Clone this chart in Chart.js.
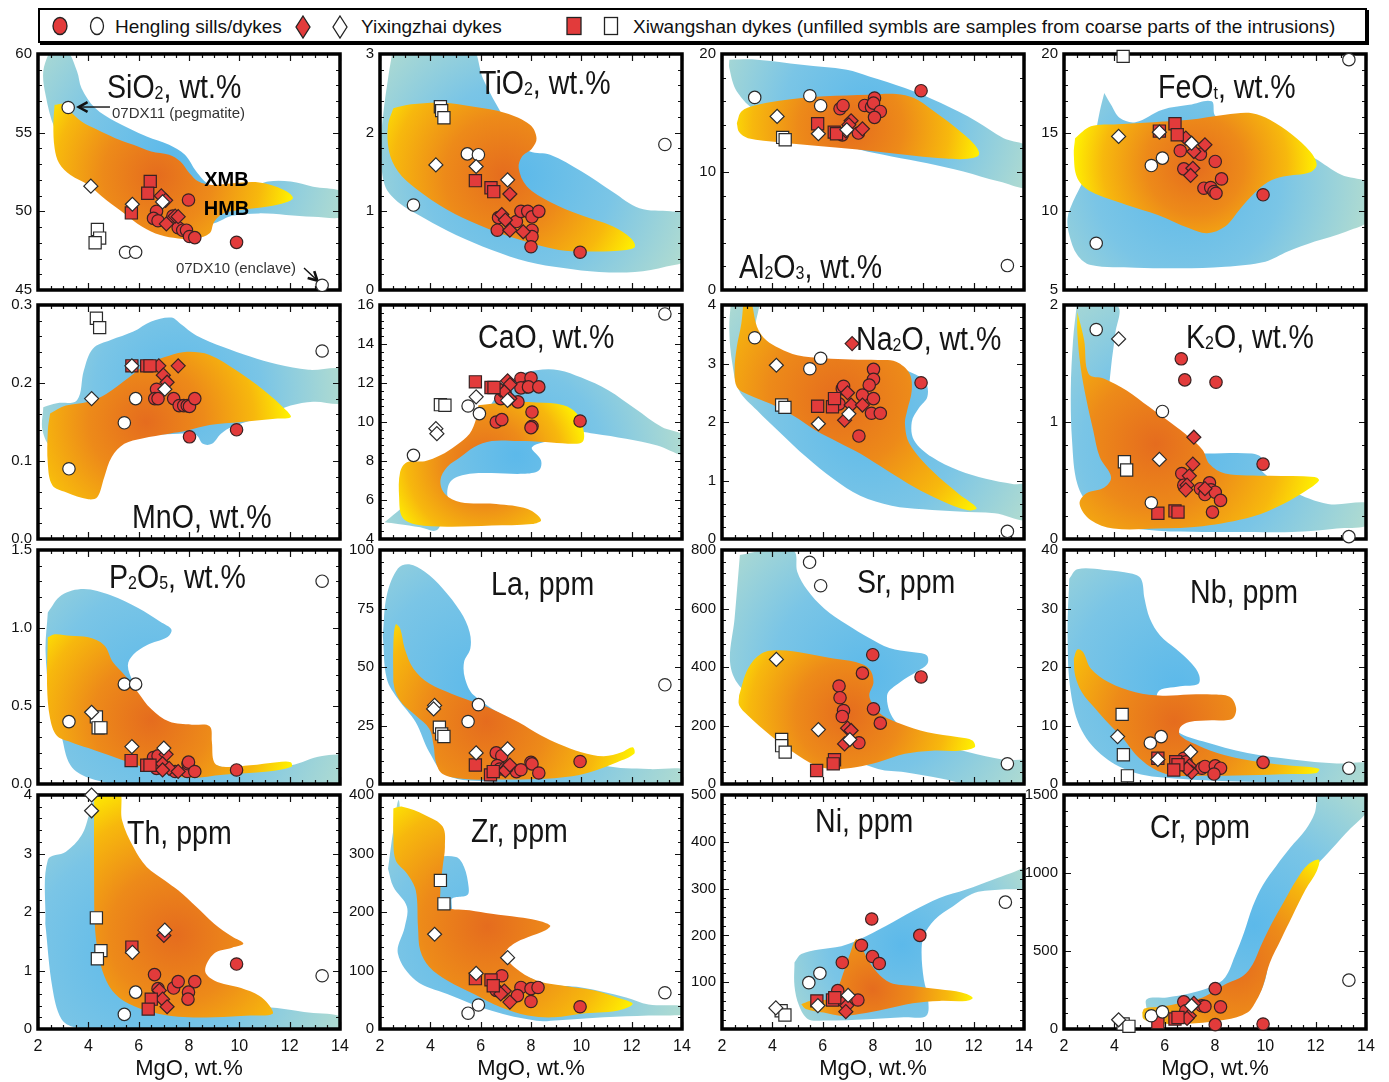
<!DOCTYPE html>
<html>
<head>
<meta charset="utf-8">
<script src="https://cdn.jsdelivr.net/npm/chart.js@4"></script>
<style>
  body { margin: 0; background: #fff; width: 1389px; height: 1082px; position: relative; overflow: hidden;
         font-family: 'Liberation Sans', Arial, sans-serif; color: #111; }
  canvas { position: absolute; }
  .ttl { position: absolute; font-size: 34px; line-height: 1; white-space: nowrap; color: #151515;
         transform: scaleX(0.84); transform-origin: 0 0; }
  .ttl sub { font-size: 0.56em; vertical-align: baseline; position: relative; top: 1px; }
  #legend { position: absolute; left: 38px; top: 8px; width: 1325px; height: 31px;
            border: 2px solid #000; box-shadow: 2px 2px 0 #000; }
  .lg { position: absolute; top: 17px; font-size: 19px; line-height: 1; white-space: nowrap; }
  .sym { position: absolute; }
</style>
</head>
<body>
<div id="legend"></div>
<svg class="sym" style="left:51px;top:16px" width="18" height="20"><ellipse cx="9" cy="10" rx="7" ry="8.5" fill="#e23b3b" stroke="#222" stroke-width="1.3"/></svg>
<svg class="sym" style="left:88px;top:16px" width="18" height="20"><ellipse cx="9" cy="10" rx="6.5" ry="8.5" fill="#fff" stroke="#222" stroke-width="1.3"/></svg>
<div class="lg" style="left:115px">Hengling sills/dykes</div>
<svg class="sym" style="left:294px;top:15px" width="18" height="24"><polygon points="9,1 16,12 9,23 2,12" fill="#e23b3b" stroke="#222" stroke-width="1.3"/></svg>
<svg class="sym" style="left:331px;top:15px" width="18" height="24"><polygon points="9,1 16,12 9,23 2,12" fill="#fff" stroke="#222" stroke-width="1.3"/></svg>
<div class="lg" style="left:361px">Yixingzhai dykes</div>
<svg class="sym" style="left:565px;top:16px" width="18" height="20"><rect x="2" y="1.5" width="14" height="17" fill="#e23b3b" stroke="#222" stroke-width="1.3"/></svg>
<svg class="sym" style="left:602px;top:16px" width="18" height="20"><rect x="2.5" y="1.5" width="13" height="17" fill="#fff" stroke="#222" stroke-width="1.3"/></svg>
<div class="lg" style="left:633px">Xiwangshan dykes (unfilled symbls are samples from coarse parts of the intrusions)</div>

<script>
// ---- fields (XMB = blue, HMB = orange) and samples, [MgO, value] ----
const SIO2_XMB = [[2.48,60.3],[3.11,60.3],[3.55,58.9],[3.73,57.83],[4.27,56.56],[5.07,55.71],[6.32,54.76],[7.21,54.23],[7.84,53.59],[8.29,52.53],[8.82,51.68],[9.54,51.46],[10.43,51.51],[11.14,51.89],[12.04,51.89],[12.93,51.57],[14.2,51.15],[14.2,49.72],[12.93,49.66],[11.86,49.77],[10.79,49.87],[9.71,49.72],[9.0,49.24],[8.29,49.13],[7.57,49.55],[6.68,50.4],[5.79,51.04],[4.89,51.68],[4.0,52.53],[3.29,53.59],[2.66,55.29],[2.3,57.41],[2.21,58.9],[2.48,60.3]];
const SIO2_HMB = [[2.66,56.77],[3.02,56.82],[3.29,56.35],[3.73,55.71],[4.36,55.18],[5.07,54.65],[5.79,54.23],[6.5,53.8],[7.21,53.59],[7.66,53.16],[8.02,52.42],[8.38,51.89],[8.91,51.68],[9.71,51.78],[10.79,51.83],[11.77,51.36],[12.13,50.87],[11.86,50.57],[11.14,50.3],[10.07,50.08],[9.36,49.87],[9.0,49.34],[8.82,48.6],[8.29,48.28],[7.57,48.28],[6.86,48.49],[6.14,49.02],[5.43,49.87],[4.71,50.72],[4.0,51.68],[3.29,52.31],[2.84,53.06],[2.66,54.01],[2.61,55.5],[2.66,56.77]];
const SIO2_HL  = [[6.71,50.0],[6.59,49.55],[6.77,49.4],[7.36,49.7],[7.57,48.96],[7.75,48.8],[7.9,48.8],[8.02,48.4],[8.23,48.33],[7.98,50.72],[9.89,48.03]];
const SIO2_HLO = [[3.2,56.6],[5.48,47.4],[5.88,47.4],[13.29,45.3]];
const SIO2_YX  = [[6.9,50.98],[7.07,50.7],[7.1,49.2],[7.45,49.7],[7.57,49.66]];
const SIO2_YXO = [[4.1,51.6],[5.75,50.45],[6.95,50.6]];
const SIO2_XW  = [[6.46,51.9],[6.36,51.15],[5.71,49.9]];
const SIO2_XWO = [[4.36,48.85],[4.45,48.3],[4.27,48.0]];

const TIO2_XMB = [[2.53,3.1],[5.56,3.1],[6.09,2.69],[6.62,2.36],[7.16,2.06],[7.51,1.89],[7.96,1.76],[8.76,1.72],[10.0,1.51],[11.24,1.25],[12.31,1.04],[13.56,1.0],[14.2,0.96],[14.2,0.4],[13.38,0.3],[12.13,0.23],[10.71,0.23],[9.29,0.28],[7.87,0.36],[6.44,0.51],[5.02,0.7],[3.78,0.91],[2.71,1.12],[2.18,1.34],[2.04,1.85],[2.14,2.27],[2.32,2.69],[2.53,3.1]];
const TIO2_HMB = [[2.53,2.31],[3.24,2.36],[4.49,2.38],[5.73,2.33],[6.98,2.25],[7.96,2.1],[8.22,1.93],[8.04,1.8],[7.65,1.7],[7.51,1.55],[7.83,1.32],[8.76,1.12],[10.0,0.95],[11.24,0.81],[11.96,0.66],[12.13,0.55],[11.78,0.51],[10.53,0.49],[9.11,0.51],[7.33,0.66],[5.91,0.83],[4.67,1.02],[3.42,1.29],[2.71,1.51],[2.36,1.76],[2.32,2.1],[2.53,2.31]];
const TIO2_HL  = [[6.71,0.92],[6.66,0.76],[7.42,0.87],[7.6,1.0],[7.87,1.0],[8.04,0.93],[8.31,1.0],[8.04,0.76],[8.04,0.68],[8.0,0.55],[9.95,0.48]];
const TIO2_HLO = [[3.33,1.08],[5.47,1.73],[5.91,1.72],[13.32,1.85]];
const TIO2_YX  = [[7.16,1.22],[6.84,0.96],[6.98,0.89],[7.16,0.76],[7.69,0.74]];
const TIO2_YXO = [[4.22,1.59],[5.82,1.57],[7.07,1.4]];
const TIO2_XW  = [[5.79,1.39],[6.41,1.3],[6.52,1.25]];
const TIO2_XWO = [[4.4,2.33],[4.45,2.28],[4.54,2.19]];

const AL2O3_XMB = [[2.29,19.52],[3.39,19.52],[5.17,19.09],[6.96,18.67],[7.85,18.1],[9.27,17.11],[10.7,15.84],[12.12,14.29],[13.19,12.87],[14.2,12.02],[14.2,8.77],[13.02,9.19],[11.59,10.04],[10.16,10.75],[8.74,11.32],[7.49,11.88],[5.17,13.44],[3.39,15.13],[2.59,16.83],[2.29,18.81],[2.29,19.52]];
const AL2O3_HMB = [[2.59,14.14],[2.77,15.13],[3.3,15.64],[4.28,16.04],[6.06,16.41],[7.85,16.55],[8.92,16.61],[9.63,16.27],[10.34,15.28],[11.23,13.86],[12.04,12.31],[12.21,11.46],[11.77,11.12],[10.7,11.17],[9.27,11.46],[7.85,11.8],[6.06,12.16],[4.28,12.53],[3.03,12.87],[2.68,13.38],[2.59,14.14]];
const AL2O3_HL  = [[6.69,15.36],[6.81,15.64],[6.78,13.15],[7.67,15.64],[7.94,15.5],[8.06,16.27],[8.02,15.84],[8.29,15.13],[8.06,14.63],[7.42,13.3],[9.91,16.89]];
const AL2O3_HLO = [[3.3,16.32],[5.49,16.46],[5.92,15.62],[13.34,2.07]];
const AL2O3_YX  = [[7.13,14.34],[7.04,14.0],[7.58,13.66],[6.92,13.49]];
const AL2O3_YXO = [[4.19,14.71],[5.83,13.24],[6.96,13.58]];
const AL2O3_XW  = [[5.8,14.09],[6.46,13.38],[6.55,13.24]];
const AL2O3_XWO = [[4.41,12.93],[4.51,12.73]];

const FEOT_XMB = [[3.6,17.52],[3.87,16.77],[4.22,15.93],[4.84,15.67],[5.91,16.46],[6.98,16.77],[7.87,16.99],[8.04,16.03],[10.18,14.87],[11.96,13.38],[13.02,12.32],[14.2,11.68],[14.2,9.56],[13.2,8.71],[11.96,8.08],[10.89,7.44],[10.0,6.8],[8.4,6.48],[6.62,6.38],[4.84,6.42],[3.07,6.59],[2.53,7.23],[2.21,8.5],[2.14,9.56],[2.36,10.62],[2.8,12.11],[3.16,14.23],[3.42,16.35],[3.6,17.52]];
const FEOT_HMB = [[2.44,14.65],[3.07,15.4],[4.13,15.54],[5.56,15.67],[6.98,15.82],[8.4,16.14],[9.47,16.24],[10.18,15.82],[11.07,14.87],[11.78,13.8],[12.04,12.96],[11.78,12.49],[10.71,12.21],[10.09,11.85],[9.56,11.15],[9.02,10.2],[8.4,9.03],[7.69,8.61],[6.98,8.92],[5.73,9.77],[4.49,10.41],[3.07,11.26],[2.53,12.11],[2.39,13.59],[2.44,14.65]];
const FEOT_HL  = [[6.62,13.85],[6.76,12.7],[7.42,13.63],[7.56,11.47],[7.83,11.51],[8.01,13.17],[7.96,11.26],[8.26,12.06],[8.04,11.15],[9.91,11.05]];
const FEOT_HLO = [[5.47,12.91],[5.91,13.38],[3.28,7.97],[13.32,19.64]];
const FEOT_YX  = [[6.84,14.65],[7.6,14.23],[7.16,13.8],[7.12,12.74],[7.03,12.28]];
const FEOT_YXO = [[4.17,14.76],[5.79,15.03],[7.07,14.33]];
const FEOT_XW  = [[5.79,15.1],[6.41,15.57],[6.5,14.87]];
const FEOT_XWO = [[4.35,19.85]];

const MNO_XMB = [[2.21,0.169],[2.75,0.174],[3.55,0.178],[3.82,0.216],[4.18,0.244],[4.89,0.255],[5.79,0.266],[6.5,0.279],[7.3,0.284],[7.66,0.276],[8.29,0.261],[9.36,0.246],[10.43,0.234],[11.5,0.224],[12.75,0.217],[14.2,0.216],[14.2,0.176],[12.93,0.176],[12.04,0.171],[11.14,0.159],[9.71,0.144],[9.27,0.135],[8.91,0.122],[8.55,0.122],[8.29,0.133],[7.57,0.135],[5.79,0.131],[4.0,0.122],[2.57,0.118],[2.18,0.139],[2.21,0.169]];
const MNO_HMB = [[2.48,0.161],[3.11,0.171],[4.0,0.176],[4.71,0.186],[5.61,0.207],[6.32,0.224],[7.21,0.235],[7.93,0.24],[8.82,0.236],[9.89,0.216],[10.96,0.191],[11.86,0.165],[12.04,0.156],[11.32,0.154],[10.07,0.15],[8.82,0.146],[7.93,0.139],[7.21,0.135],[6.14,0.129],[5.43,0.122],[4.93,0.105],[4.63,0.079],[4.36,0.054],[4.0,0.051],[3.11,0.06],[2.57,0.069],[2.39,0.096],[2.39,0.139],[2.48,0.161]];
const MNO_HL  = [[6.71,0.192],[6.64,0.18],[6.77,0.18],[7.39,0.18],[7.61,0.171],[7.79,0.171],[7.93,0.171],[8.02,0.17],[8.23,0.18],[8.02,0.131],[9.89,0.14]];
const MNO_HLO = [[13.29,0.241],[5.88,0.18],[5.43,0.149],[3.23,0.09]];
const MNO_YX  = [[6.8,0.222],[6.98,0.21],[7.13,0.201],[7.57,0.222]];
const MNO_YXO = [[4.13,0.18],[5.73,0.222],[7.04,0.192]];
const MNO_XW  = [[5.73,0.222],[6.32,0.222],[6.45,0.222]];
const MNO_XWO = [[4.32,0.283],[4.45,0.271]];

const CAO_XMB = [[2.18,4.86],[2.89,5.63],[3.6,6.49],[4.31,7.43],[5.02,8.54],[5.73,9.57],[6.27,10.6],[6.8,11.63],[7.51,12.4],[8.22,12.66],[9.11,12.66],[10.0,12.28],[11.07,11.63],[12.13,10.69],[13.2,9.74],[14.2,9.23],[14.2,8.29],[13.02,8.8],[11.78,9.14],[10.53,9.4],[9.82,9.49],[9.11,9.14],[8.04,8.71],[8.4,8.03],[8.31,7.51],[7.69,7.34],[6.44,7.38],[5.56,7.34],[4.84,7.0],[4.67,6.31],[4.84,5.63],[4.49,4.94],[4.22,4.43],[3.6,4.6],[2.71,4.77],[2.18,4.86]];
const CAO_HMB = [[5.91,10.86],[6.98,11.0],[8.22,11.0],[9.29,10.86],[9.82,10.43],[10.09,9.57],[10.04,8.97],[9.47,8.89],[8.58,8.97],[7.51,9.02],[6.44,9.02],[5.73,8.71],[5.2,8.2],[4.67,7.69],[4.4,7.0],[4.58,6.31],[5.2,5.89],[6.62,5.8],[7.87,5.54],[8.4,4.98],[8.04,4.77],[6.44,4.69],[4.67,4.63],[3.42,4.74],[2.89,5.11],[2.76,6.14],[2.8,7.43],[3.07,7.94],[3.78,7.99],[4.4,8.29],[5.02,8.8],[5.56,9.4],[5.82,10.17],[5.91,10.86]];
const CAO_HL  = [[6.8,11.2],[7.6,12.23],[7.83,11.8],[7.6,11.75],[8.0,12.26],[7.9,11.8],[8.31,11.8],[7.48,11.03],[6.62,10.0],[6.84,10.12],[8.04,10.51],[8.04,9.78],[8.0,9.71],[9.95,10.05]];
const CAO_HLO = [[13.32,15.54],[3.33,8.29],[5.5,10.82],[5.95,10.43]];
const CAO_YX  = [[7.07,12.11],[7.16,11.92],[6.8,11.63],[6.94,11.54],[7.16,11.2]];
const CAO_YXO = [[4.22,9.66],[4.26,9.4],[5.82,11.29],[7.07,11.11]];
const CAO_XW  = [[5.79,12.06],[6.41,11.77],[6.53,11.77]];
const CAO_XWO = [[4.4,10.89],[4.58,10.86]];

const NA2O_XMB = [[2.36,4.1],[3.43,4.1],[3.35,3.51],[4.28,3.11],[6.06,3.06],[8.38,3.03],[9.45,2.86],[10.08,2.69],[10.16,2.43],[9.81,2.23],[9.54,2.0],[9.63,1.69],[10.34,1.4],[11.41,1.17],[12.48,1.03],[13.55,0.94],[14.2,0.91],[14.2,0.34],[12.84,0.44],[11.41,0.47],[9.99,0.51],[8.74,0.57],[7.49,0.74],[6.42,1.03],[5.35,1.4],[4.28,1.83],[3.39,2.2],[2.68,2.54],[2.41,3.0],[2.29,3.57],[2.36,4.1]];
const NA2O_HMB = [[2.86,4.1],[3.12,4.1],[3.39,3.63],[3.75,3.4],[4.28,3.26],[4.99,3.14],[6.06,3.09],[7.13,3.07],[8.2,3.06],[8.92,3.03],[9.45,2.83],[9.54,2.54],[9.36,2.2],[9.27,1.97],[9.45,1.63],[10.34,1.17],[11.41,0.77],[12.12,0.53],[11.77,0.49],[10.7,0.66],[9.63,0.89],[8.56,1.17],[7.49,1.46],[6.6,1.66],[5.71,1.86],[4.82,2.11],[3.93,2.31],[3.03,2.47],[2.59,2.6],[2.5,2.89],[2.59,3.29],[2.77,3.69],[2.86,4.1]];
const NA2O_HL  = [[6.78,2.57],[6.83,2.61],[6.65,2.31],[8.02,2.9],[8.02,2.73],[7.85,2.63],[7.58,2.46],[8.02,2.4],[7.94,2.15],[8.29,2.15],[7.44,1.76],[9.91,2.67]];
const NA2O_HLO = [[3.3,3.44],[5.49,2.91],[5.92,3.09],[13.34,0.13]];
const NA2O_YX  = [[7.17,3.34],[6.99,2.5],[7.13,2.29],[7.58,2.29],[6.87,2.03]];
const NA2O_YXO = [[4.16,2.97],[5.83,1.97],[7.04,2.14]];
const NA2O_XW  = [[5.8,2.27],[6.39,2.26],[6.47,2.4]];
const NA2O_XWO = [[4.37,2.29],[4.5,2.25]];

const K2O_XMB = [[2.5,1.99],[4.13,1.99],[4.04,1.76],[3.87,1.47],[3.78,1.19],[3.96,0.84],[4.84,0.7],[6.27,0.73],[7.69,0.73],[9.47,0.73],[9.86,0.69],[9.82,0.59],[11.07,0.41],[12.49,0.3],[14.2,0.3],[14.2,0.13],[12.84,0.09],[11.07,0.06],[9.29,0.06],[7.51,0.06],[5.73,0.07],[3.96,0.13],[3.07,0.27],[2.53,0.47],[2.32,0.84],[2.27,1.27],[2.36,1.7],[2.5,1.99]];
const K2O_HMB = [[2.53,1.94],[2.8,1.7],[2.98,1.41],[3.6,1.37],[4.49,1.27],[5.38,1.13],[6.27,0.99],[6.98,0.87],[7.51,0.76],[7.78,0.64],[8.4,0.56],[10.18,0.54],[11.96,0.53],[12.13,0.5],[11.6,0.41],[10.71,0.3],[9.47,0.19],[7.51,0.11],[5.73,0.09],[3.96,0.09],[3.07,0.16],[2.62,0.3],[2.89,0.39],[3.6,0.44],[3.87,0.53],[3.42,0.7],[3.16,0.93],[2.89,1.19],[2.66,1.47],[2.53,1.76],[2.53,1.94]];
const K2O_HL  = [[6.66,1.54],[6.8,1.36],[8.04,1.34],[6.68,0.56],[6.76,0.46],[7.42,0.43],[7.78,0.48],[7.84,0.42],[7.6,0.38],[8.01,0.4],[8.22,0.33],[7.9,0.23],[9.91,0.64]];
const K2O_HLO = [[3.28,1.79],[5.91,1.09],[5.47,0.31],[13.32,0.02]];
const K2O_YX  = [[7.16,0.87],[7.12,0.64],[6.98,0.54],[6.89,0.46],[6.84,0.42],[7.6,0.43]];
const K2O_YXO = [[4.17,1.71],[5.79,0.68]];
const K2O_XW  = [[5.73,0.22],[6.41,0.24],[6.53,0.23]];
const K2O_XWO = [[4.4,0.66],[4.49,0.59]];

const P2O5_XMB = [[2.39,1.1],[2.93,1.21],[3.82,1.25],[4.89,1.21],[5.96,1.13],[6.86,1.04],[7.3,0.99],[7.13,0.94],[6.32,0.89],[5.79,0.83],[5.57,0.76],[5.79,0.65],[6.32,0.48],[7.57,0.31],[8.82,0.14],[10.25,0.09],[12.04,0.12],[13.29,0.18],[14.2,0.17],[14.2,-0.05],[11.14,-0.05],[8.46,-0.05],[5.79,-0.02],[4.0,0.04],[3.29,0.12],[2.93,0.31],[2.48,0.57],[2.3,0.85],[2.39,1.1]];
const P2O5_HMB = [[2.39,0.94],[2.66,0.96],[3.29,0.95],[4.0,0.94],[4.63,0.89],[4.98,0.78],[5.43,0.7],[5.96,0.59],[6.5,0.48],[7.21,0.4],[8.11,0.38],[8.82,0.37],[8.91,0.27],[9.0,0.14],[9.36,0.11],[10.43,0.12],[11.5,0.14],[12.04,0.14],[12.07,0.11],[11.14,0.08],[9.36,0.06],[8.11,0.04],[7.21,0.06],[6.14,0.11],[5.07,0.17],[4.0,0.23],[3.29,0.27],[2.75,0.31],[2.48,0.42],[2.36,0.63],[2.39,0.94]];
const P2O5_HL  = [[6.59,0.17],[6.77,0.18],[6.71,0.1],[7.45,0.08],[7.93,0.08],[7.96,0.13],[7.98,0.14],[8.23,0.08],[9.89,0.09]];
const P2O5_HLO = [[13.29,1.3],[5.43,0.64],[5.88,0.64],[3.23,0.4]];
const P2O5_YX  = [[7.09,0.19],[6.95,0.13],[7.21,0.1],[7.57,0.08],[6.95,0.09]];
const P2O5_YXO = [[4.13,0.46],[5.73,0.24],[7.0,0.23]];
const P2O5_XW  = [[5.7,0.15],[6.32,0.12],[6.45,0.12]];
const P2O5_XWO = [[4.32,0.43],[4.39,0.36],[4.5,0.36]];

const LA_XMB = [[2.11,63.6],[2.27,80.7],[2.71,92.1],[3.16,93.9],[3.78,90.7],[4.49,83.6],[5.2,73.6],[5.56,65.0],[5.59,57.9],[5.34,52.1],[5.38,45.0],[5.73,37.9],[7.33,26.4],[9.11,15.0],[10.89,7.9],[12.67,6.4],[14.2,6.0],[14.2,0.4],[11.78,0.4],[9.11,0.4],[6.44,1.0],[4.67,3.6],[3.96,13.6],[3.42,26.4],[2.71,36.4],[2.27,45.0],[2.11,63.6]];
const LA_HMB = [[2.53,43.6],[2.53,59.3],[2.62,68.1],[2.8,66.4],[2.98,57.9],[3.33,49.3],[3.96,42.9],[4.84,38.6],[5.73,35.0],[6.44,32.1],[7.51,26.4],[8.4,20.7],[9.11,17.1],[10.0,13.6],[10.89,11.9],[11.6,13.6],[12.04,15.7],[12.1,12.9],[11.42,9.3],[10.53,5.7],[9.64,3.3],[8.22,2.1],[6.44,1.9],[5.38,2.1],[4.49,4.3],[4.22,9.3],[4.13,16.4],[3.96,23.6],[3.42,29.3],[2.89,34.3],[2.62,39.3],[2.53,43.6]];
const LA_HL  = [[6.62,13.3],[6.84,12.1],[8.0,9.3],[8.04,8.6],[8.31,4.7],[9.95,9.6],[7.42,5.3],[7.6,6.1],[6.66,7.9],[6.76,6.4]];
const LA_HLO = [[13.32,42.4],[5.91,33.9],[5.5,26.7]];
const LA_YX  = [[6.89,6.4],[7.07,7.1],[6.98,5.7],[7.16,8.1]];
const LA_YXO = [[4.17,33.6],[4.13,32.1],[5.82,13.3],[7.07,15.0]];
const LA_XW  = [[5.79,8.1],[6.39,3.9],[6.5,5.3]];
const LA_XWO = [[4.36,24.3],[4.45,21.4],[4.54,20.3]];

const SR_XMB = [[2.71,783],[3.57,797],[4.85,797],[4.99,726],[5.39,663],[6.06,600],[6.96,545],[7.85,499],[8.65,465],[9.54,451],[10.13,440],[10.16,411],[9.72,383],[9.09,349],[8.56,303],[8.92,211],[10.16,154],[11.77,109],[13.19,83],[14.2,74],[14.2,-10],[12.3,-10],[10.7,19],[9.27,40],[8.2,51],[6.6,109],[4.28,211],[2.68,337],[2.32,417],[2.5,566],[2.71,783]];
const SR_HMB = [[2.68,303],[3.03,394],[3.57,446],[4.28,457],[5.35,446],[6.42,429],[7.31,417],[7.85,394],[8.02,349],[7.85,303],[8.02,269],[8.38,234],[9.09,206],[10.16,177],[11.41,160],[11.95,149],[12.04,126],[11.41,114],[10.34,114],[9.27,103],[8.2,74],[7.31,57],[6.42,51],[5.71,63],[4.82,109],[3.93,166],[3.03,234],[2.68,269],[2.68,303]];
const SR_HL  = [[7.99,442],[9.91,366],[7.58,379],[6.65,335],[6.69,295],[6.83,251],[6.78,231],[8.02,257],[8.29,208],[7.44,141]];
const SR_HLO = [[5.48,758],[5.92,678],[13.34,69]];
const SR_YX  = [[6.99,191],[7.13,183],[6.87,137]];
const SR_YXO = [[4.16,426],[5.83,186],[7.08,152]];
const SR_XW  = [[6.47,83],[6.42,69],[5.76,46]];
const SR_XWO = [[4.37,152],[4.37,131],[4.51,109]];

const NB_XMB = [[2.21,35.1],[2.53,36.7],[3.6,36.6],[4.67,36.0],[5.06,35.1],[5.2,31.7],[5.41,28.3],[5.82,25.4],[6.44,23.1],[7.07,20.6],[7.37,18.6],[7.33,17.1],[6.62,16.7],[5.73,15.7],[5.91,11.7],[6.53,8.9],[7.51,7.3],[9.29,5.3],[11.07,4.2],[12.84,3.5],[14.2,3.4],[14.2,0.4],[11.96,0.3],[9.29,0.4],[6.62,0.9],[4.84,1.9],[3.6,4.6],[2.71,9.1],[2.27,15.7],[2.14,25.4],[2.21,35.1]];
const NB_HMB = [[2.39,21.4],[2.53,23.0],[2.75,22.6],[3.07,19.7],[3.78,17.4],[4.84,15.7],[5.91,15.1],[6.98,15.3],[7.87,15.3],[8.58,14.9],[8.84,12.9],[8.67,11.1],[7.87,10.9],[6.98,10.6],[6.62,9.7],[6.62,8.3],[7.33,6.6],[8.4,4.9],[9.82,3.7],[11.07,3.1],[12.13,2.6],[12.04,1.9],[11.07,1.7],[9.29,1.5],[7.51,1.4],[6.27,1.5],[5.56,2.6],[5.02,4.3],[4.67,6.0],[4.31,8.0],[3.78,10.3],[3.24,12.9],[2.71,15.7],[2.44,18.6],[2.39,21.4]];
const NB_HL  = [[6.76,4.4],[6.85,3.8],[7.48,2.7],[7.6,3.0],[8.01,3.1],[8.22,2.7],[7.96,1.7],[9.91,3.7]];
const NB_HLO = [[5.43,7.0],[5.86,8.1],[13.32,2.7]];
const NB_YX  = [[6.98,3.1],[7.07,2.0],[6.89,2.6]];
const NB_YXO = [[4.13,8.1],[5.73,4.2],[7.03,5.5]];
const NB_XW  = [[5.73,4.4],[6.44,3.8],[6.53,3.3],[6.36,2.4]];
const NB_XWO = [[4.31,11.9],[4.36,5.0],[4.52,1.4]];

const TH_XMB = [[2.29,1.8],[2.39,2.89],[3.11,3.03],[3.73,3.31],[4.05,3.69],[4.21,3.91],[4.45,2.54],[4.71,1.69],[5.25,1.06],[6.14,0.54],[7.93,0.31],[9.71,0.34],[11.14,0.37],[12.57,0.29],[14.2,0.19],[14.2,-0.05],[8.46,-0.05],[5.79,-0.05],[3.46,0.03],[2.93,0.17],[2.57,0.71],[2.29,1.8]];
const TH_HMB = [[4.23,4.1],[5.21,4.1],[5.34,3.57],[5.79,3.11],[6.32,2.77],[7.04,2.54],[7.57,2.37],[8.29,2.09],[9.0,1.8],[9.71,1.58],[10.16,1.46],[9.71,1.39],[9.0,1.29],[8.64,1.0],[9.0,0.83],[10.07,0.7],[10.79,0.57],[11.14,0.43],[11.32,0.26],[10.43,0.23],[9.0,0.2],[7.57,0.21],[6.5,0.29],[5.61,0.43],[5.07,0.6],[4.71,0.83],[4.45,1.17],[4.27,1.69],[4.23,2.54],[4.23,4.1]];
const TH_HL  = [[9.89,1.11],[6.63,0.93],[6.77,0.69],[7.39,0.7],[7.57,0.81],[8.23,0.81],[7.98,0.63],[7.96,0.51]];
const TH_HLO = [[5.88,0.63],[5.43,0.25],[13.29,0.91]];
const TH_YX  = [[7.0,1.6],[6.82,0.66],[6.95,0.51],[7.13,0.38]];
const TH_YXO = [[4.13,4.0],[4.13,3.73],[5.75,1.31],[7.04,1.69]];
const TH_XW  = [[5.73,1.4],[6.5,0.51],[6.38,0.34]];
const TH_XWO = [[4.32,1.9],[4.5,1.34],[4.36,1.2]];

const ZR_XMB = [[2.32,274],[2.53,340],[2.75,391],[2.98,294],[3.96,294],[5.02,294],[5.34,277],[5.52,243],[5.47,229],[4.84,220],[5.56,106],[6.98,100],[7.87,89],[8.58,77],[10.0,71],[11.78,54],[12.67,42],[14.2,38],[14.2,26],[12.67,23],[10.89,20],[9.11,15],[8.22,14],[6.44,31],[4.67,60],[3.42,83],[2.71,129],[2.98,174],[3.07,209],[2.53,243],[2.32,274]];
const ZR_HMB = [[2.53,377],[2.89,380],[3.78,366],[4.49,346],[4.58,311],[4.49,277],[4.4,237],[4.49,210],[5.56,203],[6.44,197],[7.51,191],[8.22,186],[8.76,177],[8.58,169],[7.87,157],[7.33,146],[6.98,129],[7.33,106],[8.22,83],[9.29,74],[10.53,66],[11.42,54],[12.04,43],[11.42,31],[10.0,26],[8.93,20],[7.87,23],[6.8,37],[5.73,60],[4.67,83],[3.96,106],[3.6,134],[3.51,174],[3.42,237],[3.07,266],[2.62,289],[2.53,334],[2.53,377]];
const ZR_HL  = [[6.84,91],[7.6,71],[8.0,69],[8.28,71],[7.46,57],[8.0,47],[9.95,38],[6.62,66]];
const ZR_HLO = [[5.5,27],[5.91,41],[13.32,62]];
const ZR_YX  = [[6.94,65],[7.16,46],[6.8,60]];
const ZR_YXO = [[4.17,162],[7.07,122],[5.82,95]];
const ZR_XW  = [[5.79,86],[6.41,84],[6.5,74]];
const ZR_XWO = [[4.4,254],[4.54,214]];

const NI_XMB = [[4.88,142],[5.15,160],[5.86,170],[6.74,177],[7.45,191],[8.51,220],[9.58,252],[10.64,280],[11.7,298],[12.76,319],[13.47,333],[14.2,344],[14.2,305],[13.12,298],[12.05,291],[11.17,262],[10.46,234],[10.02,199],[9.93,163],[10.02,106],[10.19,64],[10.11,28],[9.22,25],[7.81,21],[6.04,18],[5.42,21],[5.06,50],[4.88,92],[4.88,142]];
const NI_HMB = [[5.15,53],[5.5,60],[6.21,64],[6.57,85],[6.83,121],[7.1,163],[7.31,191],[7.45,188],[7.72,156],[8.16,121],[8.69,99],[9.58,92],[10.64,85],[11.52,78],[11.96,67],[11.7,60],[10.64,60],[9.58,55],[8.51,43],[7.45,32],[6.74,28],[6.04,35],[5.33,43],[5.15,53]];
const NI_HL  = [[6.78,142],[6.6,82],[7.54,179],[7.95,235],[7.98,155],[8.25,140],[9.86,200],[7.4,62]];
const NI_HLO = [[5.45,99],[5.89,119],[13.26,271]];
const NI_YX  = [[6.83,57],[6.96,50],[6.92,37]];
const NI_YXO = [[4.14,45],[5.81,50],[7.01,72]];
const NI_XW  = [[5.77,60],[6.39,62],[6.48,67]];
const NI_XWO = [[4.35,39],[4.5,30]];

const CR_XMB = [[5.29,117],[5.29,191],[6.09,202],[6.98,227],[7.87,272],[8.4,330],[8.79,468],[9.15,617],[9.5,787],[9.91,925],[10.44,1047],[10.98,1160],[11.6,1277],[11.96,1383],[12.22,1530],[14.2,1530],[14.2,1426],[13.2,1255],[12.49,1128],[11.87,1021],[11.24,894],[10.8,766],[10.44,638],[10.18,489],[10.0,319],[9.64,191],[9.11,106],[7.51,64],[5.91,53],[5.38,64],[5.29,117]];
const CR_HMB = [[5.11,106],[5.2,132],[5.91,144],[6.62,166],[7.51,202],[8.04,251],[8.49,293],[9.11,340],[9.5,415],[9.82,532],[10.27,681],[10.71,808],[11.24,957],[11.69,1053],[12.13,1085],[12.04,1011],[11.6,894],[11.07,723],[10.62,574],[10.18,425],[9.91,276],[9.64,181],[9.29,106],[8.4,59],[6.62,32],[5.56,42],[5.16,64],[5.11,106]];
const CR_HL  = [[6.76,174],[6.84,117],[7.48,149],[7.6,145],[8.01,259],[8.22,142],[8.01,28],[9.91,32]];
const CR_HLO = [[5.47,85],[5.91,110],[13.32,313]];
const CR_YX  = [[6.98,85],[6.89,68],[7.16,164]];
const CR_YXO = [[4.17,59],[7.07,149]];
const CR_XW  = [[5.73,42],[6.41,64],[6.53,74]];
const CR_XWO = [[4.35,32],[4.58,17]];

// annotations on the SiO2 panel, in data units
const SIO2_LABELS = [
  { text: '07DX11 (pegmatite)', x: 4.94, y: 56.19, bold: false },
  { text: 'XMB', x: 9.49, y: 51.96, bold: true },
  { text: 'HMB', x: 9.49, y: 50.11, bold: true },
  { text: '07DX10 (enclave)', x: 7.48, y: 46.36, bold: false }
];
const SIO2_ARROWS = [[4.86, 56.63, 3.62, 56.63], [12.57, 46.4, 13.1, 45.6]];

const MGO_RANGE = [2, 14];

// ---- panel layout ----
const COL_LEFT = [38, 380, 722, 1064];
const ROW_TOP  = [54, 305, 550, 795];
const ROW_H    = [236, 234, 234, 234];
const PLOT_W   = 302;

const PANELS = [
  { key: 'SiO2',  title: 'SiO<sub>2</sub>, wt.%', tx: 107, ty: 73, y: [45, 60, 5], dec: 0,
    f: [SIO2_XMB, SIO2_HMB, SIO2_HL, SIO2_HLO, SIO2_YX, SIO2_YXO, SIO2_XW, SIO2_XWO] },
  { key: 'TiO2',  title: 'TiO<sub>2</sub>, wt.%', tx: 479, ty: 69, y: [0, 3, 1], dec: 0,
    f: [TIO2_XMB, TIO2_HMB, TIO2_HL, TIO2_HLO, TIO2_YX, TIO2_YXO, TIO2_XW, TIO2_XWO] },
  { key: 'Al2O3', title: 'Al<sub>2</sub>O<sub>3</sub>, wt.%', tx: 739, ty: 253, y: [0, 20, 10], dec: 0,
    f: [AL2O3_XMB, AL2O3_HMB, AL2O3_HL, AL2O3_HLO, AL2O3_YX, AL2O3_YXO, AL2O3_XW, AL2O3_XWO] },
  { key: 'FeOt',  title: 'FeO<sub>t</sub>, wt.%', tx: 1158, ty: 73, y: [5, 20, 5], dec: 0,
    f: [FEOT_XMB, FEOT_HMB, FEOT_HL, FEOT_HLO, FEOT_YX, FEOT_YXO, FEOT_XW, FEOT_XWO] },
  { key: 'MnO',   title: 'MnO, wt.%', tx: 132, ty: 503, y: [0, 0.3, 0.1], dec: 1,
    f: [MNO_XMB, MNO_HMB, MNO_HL, MNO_HLO, MNO_YX, MNO_YXO, MNO_XW, MNO_XWO] },
  { key: 'CaO',   title: 'CaO, wt.%', tx: 478, ty: 323, y: [4, 16, 2], dec: 0,
    f: [CAO_XMB, CAO_HMB, CAO_HL, CAO_HLO, CAO_YX, CAO_YXO, CAO_XW, CAO_XWO] },
  { key: 'Na2O',  title: 'Na<sub>2</sub>O, wt.%', tx: 856, ty: 325, y: [0, 4, 1], dec: 0,
    f: [NA2O_XMB, NA2O_HMB, NA2O_HL, NA2O_HLO, NA2O_YX, NA2O_YXO, NA2O_XW, NA2O_XWO] },
  { key: 'K2O',   title: 'K<sub>2</sub>O, wt.%', tx: 1186, ty: 323, y: [0, 2, 1], dec: 0,
    f: [K2O_XMB, K2O_HMB, K2O_HL, K2O_HLO, K2O_YX, K2O_YXO, K2O_XW, K2O_XWO] },
  { key: 'P2O5',  title: 'P<sub>2</sub>O<sub>5</sub>, wt.%', tx: 109, ty: 563, y: [0, 1.5, 0.5], dec: 1,
    f: [P2O5_XMB, P2O5_HMB, P2O5_HL, P2O5_HLO, P2O5_YX, P2O5_YXO, P2O5_XW, P2O5_XWO] },
  { key: 'La',    title: 'La, ppm', tx: 491, ty: 570, y: [0, 100, 25], dec: 0,
    f: [LA_XMB, LA_HMB, LA_HL, LA_HLO, LA_YX, LA_YXO, LA_XW, LA_XWO] },
  { key: 'Sr',    title: 'Sr, ppm', tx: 857, ty: 568, y: [0, 800, 200], dec: 0,
    f: [SR_XMB, SR_HMB, SR_HL, SR_HLO, SR_YX, SR_YXO, SR_XW, SR_XWO] },
  { key: 'Nb',    title: 'Nb, ppm', tx: 1190, ty: 578, y: [0, 40, 10], dec: 0,
    f: [NB_XMB, NB_HMB, NB_HL, NB_HLO, NB_YX, NB_YXO, NB_XW, NB_XWO] },
  { key: 'Th',    title: 'Th, ppm', tx: 127, ty: 819, y: [0, 4, 1], dec: 0,
    f: [TH_XMB, TH_HMB, TH_HL, TH_HLO, TH_YX, TH_YXO, TH_XW, TH_XWO] },
  { key: 'Zr',    title: 'Zr, ppm', tx: 471, ty: 817, y: [0, 400, 100], dec: 0,
    f: [ZR_XMB, ZR_HMB, ZR_HL, ZR_HLO, ZR_YX, ZR_YXO, ZR_XW, ZR_XWO] },
  { key: 'Ni',    title: 'Ni, ppm', tx: 815, ty: 807, y: [0, 500, 100], dec: 0, hideZero: true,
    f: [NI_XMB, NI_HMB, NI_HL, NI_HLO, NI_YX, NI_YXO, NI_XW, NI_XWO] },
  { key: 'Cr',    title: 'Cr, ppm', tx: 1150, ty: 813, y: [0, 1500, 500], dec: 0,
    f: [CR_XMB, CR_HMB, CR_HL, CR_HLO, CR_YX, CR_YXO, CR_XW, CR_XWO] }
];

const FONT = "'Liberation Sans', Arial, sans-serif";
const RED = '#e23b3b';
const FIELD_STOPS = {
  XMB: [[0, '#5cb9ea'], [0.5, '#7ac5e6'], [1, '#b2dcd0']],
  HMB: [[0, '#e56c1e'], [0.4, '#ed8a19'], [0.75, '#f7b80d'], [1, '#fff200']]
};

const xy = pairs => pairs.map(([x, y]) => ({ x, y }));

function fieldColor(kind) {
  return (c) => {
    const chart = c.chart;
    const xs = chart.scales.x, ys = chart.scales.y;
    if (!chart.chartArea || !xs || !ys || !c.dataset) return FIELD_STOPS[kind][1][1];
    const px = c.dataset.data.map(p => [xs.getPixelForValue(p.x), ys.getPixelForValue(p.y)]);
    let cx = 0, cy = 0;
    px.forEach(p => { cx += p[0]; cy += p[1]; });
    cx /= px.length; cy /= px.length;
    let r = 1;
    px.forEach(p => { r = Math.max(r, Math.hypot(p[0] - cx, p[1] - cy)); });
    const g = chart.ctx.createRadialGradient(cx, cy, 0, cx, cy, r);
    FIELD_STOPS[kind].forEach(([o, col]) => g.addColorStop(o, col));
    return g;
  };
}

function field(kind, pairs, order) {
  return {
    type: 'line', role: kind, data: xy(pairs), order,
    showLine: true, fill: 'shape', borderWidth: 0, borderColor: 'rgba(0,0,0,0)',
    pointRadius: 0, pointHoverRadius: 0, tension: 0.35,
    backgroundColor: fieldColor(kind)
  };
}

function samples(pairs, style, filled, order) {
  const radius = { circle: 6.2, rectRot: 7, rect: 8.6 }[style];
  return {
    type: 'scatter', data: xy(pairs), order, clip: false,
    pointStyle: style, pointRadius: radius, pointHoverRadius: radius,
    pointBackgroundColor: filled ? RED : '#fff',
    pointBorderColor: filled ? '#3a2222' : '#2a2a2a',
    pointBorderWidth: 1.2
  };
}

function arrow(ctx, x0, y0, x1, y1) {
  ctx.lineWidth = 1.4;
  ctx.beginPath(); ctx.moveTo(x0, y0); ctx.lineTo(x1, y1); ctx.stroke();
  const a = Math.atan2(y1 - y0, x1 - x0), h = 10;
  ctx.lineWidth = 2.6;
  ctx.beginPath();
  ctx.moveTo(x1 - h * Math.cos(a - 0.5), y1 - h * Math.sin(a - 0.5));
  ctx.lineTo(x1, y1);
  ctx.lineTo(x1 - h * Math.cos(a + 0.5), y1 - h * Math.sin(a + 0.5));
  ctx.stroke();
}

function framePlugin(p) {
  return {
    id: 'frame',
    afterDatasetDraw(chart, args) {
      if (chart.data.datasets[args.index].role !== 'HMB') return;
      const { ctx, chartArea: a, scales: { x, y } } = chart;
      ctx.save();
      ctx.strokeStyle = '#111';
      ctx.lineWidth = 1.2;
      ctx.beginPath();
      for (let i = 0; i <= 24; i++) {
        const v = MGO_RANGE[0] + i * 0.5;
        const px = Math.round(x.getPixelForValue(v)) + 0.5;
        const len = i % 4 === 0 ? 7 : 4;
        ctx.moveTo(px, a.bottom); ctx.lineTo(px, a.bottom - len);
        ctx.moveTo(px, a.top); ctx.lineTo(px, a.top + len);
      }
      const [y0, y1, step] = p.y;
      const n = Math.round((y1 - y0) / (step / 5));
      for (let i = 0; i <= n; i++) {
        const v = y0 + i * step / 5;
        const py = Math.round(y.getPixelForValue(v)) + 0.5;
        const len = i % 5 === 0 ? 7 : 4;
        ctx.moveTo(a.left, py); ctx.lineTo(a.left + len, py);
        ctx.moveTo(a.right, py); ctx.lineTo(a.right - len, py);
      }
      ctx.stroke();

      if (p.key === 'SiO2') {
        ctx.strokeStyle = '#111';
        ctx.textBaseline = 'middle';
        SIO2_LABELS.forEach(l => {
          ctx.font = l.bold ? `bold 20px ${FONT}` : `15px ${FONT}`;
          ctx.textAlign = l.bold ? 'center' : 'left';
          ctx.fillStyle = l.bold ? '#000' : '#333';
          ctx.fillText(l.text, x.getPixelForValue(l.x), y.getPixelForValue(l.y));
        });
        SIO2_ARROWS.forEach(([ax, ay, bx, by]) =>
          arrow(ctx, x.getPixelForValue(ax), y.getPixelForValue(ay), x.getPixelForValue(bx), y.getPixelForValue(by)));
      }

      ctx.lineWidth = 3.5;
      ctx.strokeStyle = '#000';
      ctx.strokeRect(a.left, a.top, a.width, a.height);
      ctx.restore();
    }
  };
}

// scales report half-label overflow as padding; the canvas margins already hold it
function noScalePadding(s) {
  s.paddingTop = 0; s.paddingBottom = 0; s.paddingLeft = 0; s.paddingRight = 0;
}

PANELS.forEach((p, i) => {
  const col = i % 4, row = Math.floor(i / 4);
  const isBottom = row === 3;
  const padTop = 12, padRight = 10, padBottom = 10, yW = 38, xH = 53;
  const plotH = ROW_H[row];
  const cv = document.createElement('canvas');
  const w = yW + PLOT_W + padRight;
  const h = padTop + plotH + (isBottom ? xH : padBottom);
  cv.width = w; cv.height = h;
  cv.style.left = (COL_LEFT[col] - yW) + 'px';
  cv.style.top = (ROW_TOP[row] - padTop) + 'px';
  document.body.appendChild(cv);

  const t = document.createElement('div');
  t.className = 'ttl';
  t.innerHTML = p.title;
  t.style.left = p.tx + 'px';
  t.style.top = (p.ty - 4) + 'px';
  document.body.appendChild(t);

  const [xmb, hmb, hl, hlo, yx, yxo, xw, xwo] = p.f;
  new Chart(cv, {
    type: 'scatter',
    data: {
      datasets: [
        field('XMB', xmb, 20),
        field('HMB', hmb, 19),
        samples(hl, 'circle', true, 6),
        samples(yx, 'rectRot', true, 5),
        samples(xw, 'rect', true, 4),
        samples(hlo, 'circle', false, 3),
        samples(xwo, 'rect', false, 2),
        samples(yxo, 'rectRot', false, 1)
      ]
    },
    options: {
      responsive: false,
      animation: false,
      events: [],
      layout: { autoPadding: false, padding: { top: padTop, right: padRight, bottom: isBottom ? 0 : padBottom, left: 0 } },
      plugins: { legend: { display: false }, tooltip: { enabled: false } },
      scales: {
        x: {
          type: 'linear', min: MGO_RANGE[0], max: MGO_RANGE[1], display: isBottom,
          grid: { display: false, drawTicks: false }, border: { display: false },
          ticks: { stepSize: 2, padding: 8, color: '#111', autoSkip: false, maxRotation: 0,
                   font: { family: FONT, size: 16 } },
          title: { display: isBottom, text: 'MgO, wt.%', color: '#111', padding: { top: 0, bottom: 0 },
                   font: { family: FONT, size: 22 } },
          afterFit(s) { s.height = isBottom ? xH : 0; noScalePadding(s); }
        },
        y: {
          type: 'linear', min: p.y[0], max: p.y[1],
          grid: { display: false, drawTicks: false }, border: { display: false },
          ticks: {
            stepSize: p.y[2], padding: 6, color: '#111', font: { family: FONT, size: 15 },
            callback: v => (p.hideZero && v === 0) ? '' : Number(v).toFixed(p.dec)
          },
          afterFit(s) { s.width = yW; noScalePadding(s); }
        }
      }
    },
    plugins: [framePlugin(p)]
  });
});
</script>
</body>
</html>
